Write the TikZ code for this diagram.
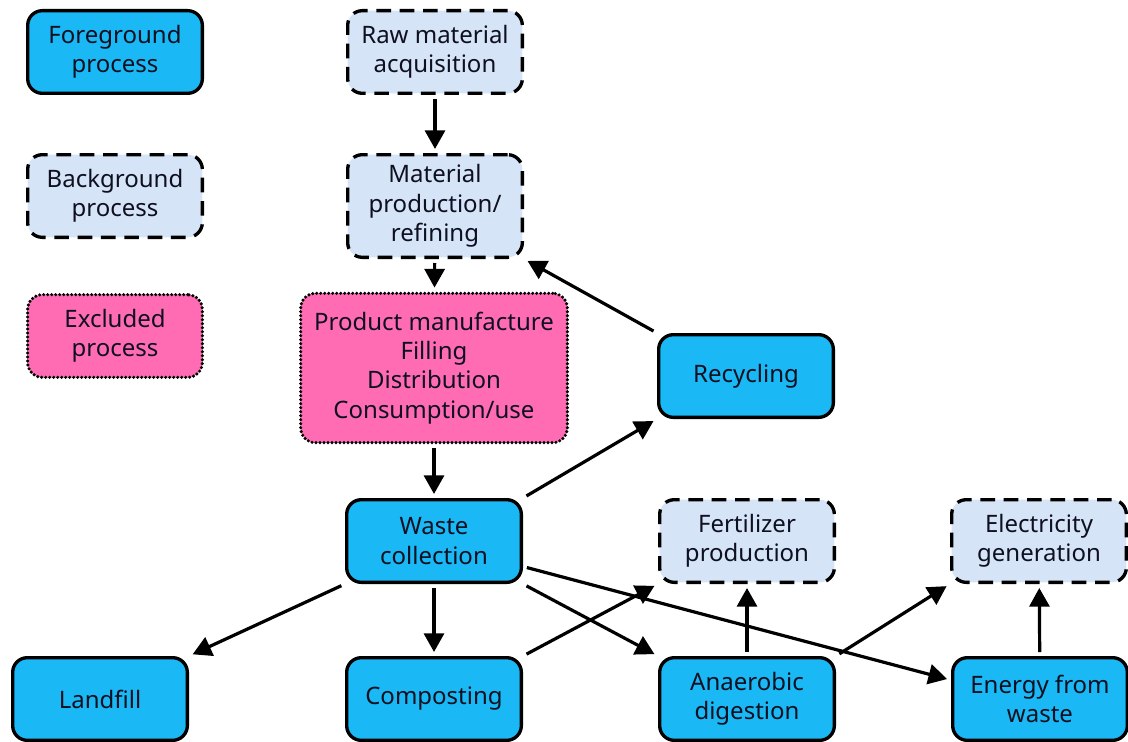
\documentclass[tikz,border=0pt]{standalone}
\usepackage{fontspec}
\setmainfont{Noto Sans}
\usetikzlibrary{arrows.meta}
\definecolor{fgfill}{RGB}{26,184,245}
\definecolor{bgfill}{RGB}{214,228,247}
\definecolor{exfill}{RGB}{255,108,180}
\definecolor{txt}{RGB}{14,16,32}
\tikzset{
  box/.style={rounded corners=11pt, line width=2.5pt, draw=black, align=center,
    minimum width=131pt, minimum height=62pt, inner sep=1pt, text=txt,
    font=\fontsize{18}{22}\selectfont},
  fgbox/.style={box, fill=fgfill},
  bgbox/.style={box, fill=bgfill, dash pattern=on 11pt off 6.5pt},
  exbox/.style={box, fill=exfill, line width=2.6pt, dash pattern=on 0pt off 3pt, line cap=round},
  arr/.style={line width=2.4pt, -{Triangle[length=14pt,width=15pt]}, shorten >=3pt, shorten <=3pt}
}
\begin{document}
\begin{tikzpicture}[x=0.75pt,y=-0.75pt]
\useasboundingbox (0,0) rectangle (1128,742);
% legend
\node[fgbox] (lfg) at (115,52) {Foreground\\process};
\node[bgbox] (lbg) at (115,196) {Background\\process};
\node[exbox] (lex) at (115,336) {Excluded\\process};
% main
\node[bgbox] (raw) at (435,52) {Raw material\\acquisition};
\node[bgbox, minimum height=77pt] (mat) at (435,206) {Material\\production/\\refining};
\node[exbox, minimum width=200pt, minimum height=112pt] (prod) at (434,368) {Product manufacture\\Filling\\Distribution\\Consumption/use};
\node[fgbox] (rec) at (746,376) {Recycling};
\node[fgbox] (waste) at (434,541) {Waste\\collection};
\node[bgbox] (fert) at (747,541) {Fertilizer\\production};
\node[bgbox] (elec) at (1039,541) {Electricity\\generation};
\node[fgbox] (land) at (100,699) {Landfill};
\node[fgbox] (comp) at (434,699) {Composting};
\node[fgbox] (anae) at (747,699) {Anaerobic\\digestion};
\node[fgbox] (efw) at (1040,699) {Energy from\\waste};
% arrows
\draw[arr] (raw) -- (mat);
\draw[arr] (mat) -- (prod);
\draw[arr] (rec.north west) -- (mat.south east);
\draw[arr] (prod) -- (waste);
\draw[arr] (waste.north east) -- (rec.south west);
\draw[arr] (waste.south west) -- (land.north east);
\draw[arr] (waste) -- (comp);
\draw[arr] (waste.south east) -- (anae.north west);
\draw[arr] (waste.-16) -- (efw.168);
\draw[arr] (comp.north east) -- (fert.south west);
\draw[arr] (anae) -- (fert);
\draw[arr] (anae.north east) -- (elec.south west);
\draw[arr] (efw) -- (elec);
\end{tikzpicture}
\end{document}
